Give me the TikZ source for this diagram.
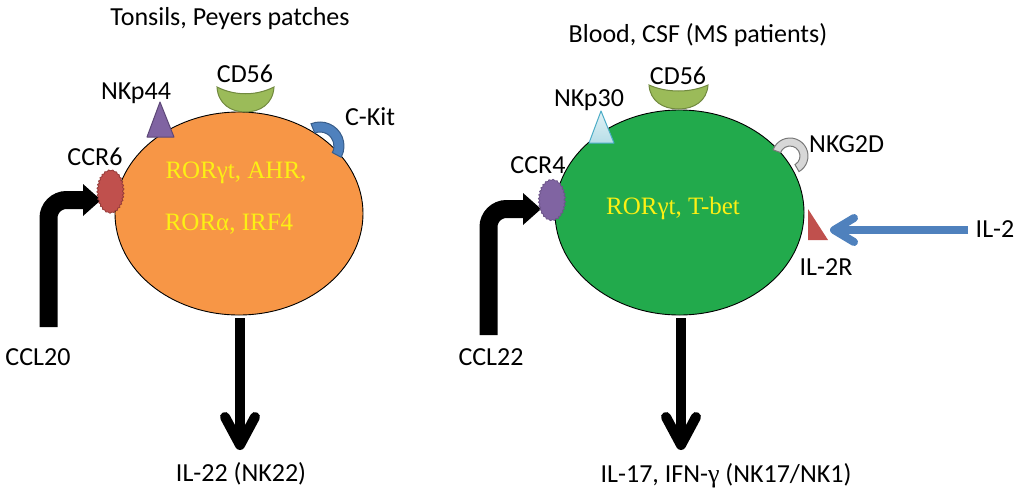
\documentclass[tikz,border=0pt]{standalone}
\usepackage{fontspec}
\setmainfont{Carlito}
\newfontfamily\serif{Liberation Serif}
\usetikzlibrary{decorations.pathmorphing}
\definecolor{orangecell}{RGB}{247,150,70}
\definecolor{greencell}{RGB}{34,170,76}
\definecolor{olive}{RGB}{155,187,89}
\definecolor{olivedark}{RGB}{113,137,63}
\definecolor{purp}{RGB}{128,100,162}
\definecolor{purpdark}{RGB}{92,71,118}
\definecolor{bluek}{RGB}{79,129,189}
\definecolor{bluekdark}{RGB}{56,93,138}
\definecolor{redr}{RGB}{192,80,77}
\definecolor{redrdark}{RGB}{150,60,58}
\definecolor{cyanl}{RGB}{183,222,232}
\definecolor{cyand}{RGB}{75,172,198}
\definecolor{grayl}{RGB}{215,215,215}
\definecolor{grayd}{RGB}{120,120,120}
\definecolor{yel}{RGB}{252,240,20}
\begin{document}
\begin{tikzpicture}[x=1pt,y=-1pt,
  lbl/.style={anchor=base, inner sep=0pt, font=\fontsize{26}{30}\selectfont},
  tf/.style={anchor=base, inner sep=0pt, text=yel, font=\serif\fontsize{25}{30}\selectfont},
  cell/.style={draw=black, line width=0.9pt},
  bentarrow/.style={line width=18pt, rounded corners=18pt},
  headtri/.style={fill=black},
  outarrow/.style={line width=10pt},
  chevron/.style={line width=10pt, line cap=round, line join=round},
  bluearrow/.style={bluek, line width=8pt},
  bluechev/.style={bluek, line width=8pt, line cap=round, line join=round},
  cd56/.style={fill=olive, draw=olivedark, line width=1pt},
  blob/.style={decorate, decoration={bumps, amplitude=1.6pt, segment length=7pt}, line width=0.8pt},
  ring/.style={line width=1pt}]
\useasboundingbox (0,0) rectangle (1024,496);

% ---------- left panel ----------
\node[lbl] (title1) at (230,25) {Tonsils, Peyers patches};
% bent arrow CCL20 -> CCR6
\coordinate (ccl20start) at (48.5,327);
\coordinate (ccl20bend) at (48.5,200);
\coordinate (ccl20end) at (84,200);
\draw[bentarrow] (ccl20start) -- (ccl20bend) -- (ccl20end);
\fill[headtri] (83,184) -- (101,200) -- (83,216) -- cycle;
\node[lbl] (ccl20) at (38,365) {CCL20};
% cell
\fill[orangecell] (239,213.5) ellipse[x radius=124, y radius=101.5];
\draw[cell] (239,213.5) ellipse[x radius=124, y radius=101.5];
\node[tf] (tfa1) at (236,178) {RORγt, AHR,};
\node[tf] (tfa2) at (229,230) {RORα, IRF4};
% CD56
\draw[cd56] (217,87) .. controls (235,96) and (256,96) .. (274,87)
  .. controls (273,104) and (260,112) .. (245.5,112)
  .. controls (231,112) and (218,104) .. (217,87) -- cycle;
\node[lbl] (cd56a) at (245,82) {CD56};
% NKp44
\draw[fill=purp, draw=purpdark, line width=1pt, line join=round] (160,102) -- (174,137) -- (147,137) -- cycle;
\node[lbl] (nkp44) at (136,99) {NKp44};
% C-Kit
\draw[ring, fill=bluek, draw=bluekdark] (320,146) ++(-112:24) arc[start angle=-112, end angle=28, radius=24]
  -- ++(208:10) arc[start angle=28, end angle=-112, radius=14] -- cycle;
\node[lbl] (ckit) at (370,125) {C-Kit};
% CCR6
\draw[blob, fill=redr, draw=redrdark] (110.5,191.5) ellipse[x radius=12, y radius=20];
\node[lbl] (ccr6) at (95,165) {CCR6};
% output arrow
\coordinate (outAtop) at (240,318);
\coordinate (outAtip) at (240,445);
\draw[outarrow] (outAtop) -- (outAtip);
\draw[chevron] (225,417) -- (outAtip) -- (255,417);
\node[lbl] (il22) at (241,481) {IL-22 (NK22)};

% ---------- right panel ----------
\node[lbl] (title2) at (698,42) {Blood, CSF (MS patients)};
\coordinate (ccl22start) at (488.5,335);
\coordinate (ccl22bend) at (488.5,209);
\coordinate (ccl22end) at (524,209);
\draw[bentarrow] (ccl22start) -- (ccl22bend) -- (ccl22end);
\fill[headtri] (523,193) -- (541,209) -- (523,225) -- cycle;
\node[lbl] (ccl22) at (491,365) {CCL22};
% cell
\fill[greencell] (679.5,212.5) ellipse[x radius=124.5, y radius=102.5];
\draw[cell] (679.5,212.5) ellipse[x radius=124.5, y radius=102.5];
\node[tf] (tfb) at (673,214) {RORγt, T-bet};
% CD56
\draw[cd56] (649,85) .. controls (667,93) and (690,93) .. (708,85)
  .. controls (707,101) and (694,109) .. (678.5,109)
  .. controls (663,109) and (650,101) .. (649,85) -- cycle;
\node[lbl] (cd56b) at (678,84) {CD56};
% NKp30
\draw[top color=cyanl!40, bottom color=cyanl, draw=cyand, line width=1pt, line join=round] (601,111) -- (614,143) -- (589,143) -- cycle;
\node[lbl] (nkp30) at (589,106) {NKp30};
% NKG2D
\draw[ring, fill=grayl, draw=grayd] (790,156) ++(-160:18) arc[start angle=-160, end angle=60, radius=18]
  -- ++(240:8) arc[start angle=60, end angle=-160, radius=10] -- cycle;
\node[lbl, anchor=base west] (nkg2d) at (809,152) {NKG2D};
% CCR4
\draw[blob, fill=purp, draw=purp!85!black] (552,200) ellipse[x radius=12, y radius=19];
\node[lbl] (ccr4) at (538,173) {CCR4};
% IL-2R
\fill[redr] (808,209) -- (828,240) -- (808,240) -- cycle;
\node[lbl] (il2r) at (826,275) {IL-2R};
% IL-2 arrow
\node[lbl] (il2) at (995,237) {IL-2};
\coordinate (il2start) at (968,230);
\coordinate (il2tip) at (834,230);
\draw[bluearrow] (il2start) -- (il2tip);
\draw[bluechev] (854,218) -- (il2tip) -- (854,242);
% output arrow
\coordinate (outBtop) at (681,318);
\coordinate (outBtip) at (681,445);
\draw[outarrow] (outBtop) -- (outBtip);
\draw[chevron] (666,417) -- (outBtip) -- (696,417);
\node[lbl] (il17) at (726,482) {IL-17, IFN-{\serif γ} (NK17/NK1)};
\end{tikzpicture}
\end{document}
